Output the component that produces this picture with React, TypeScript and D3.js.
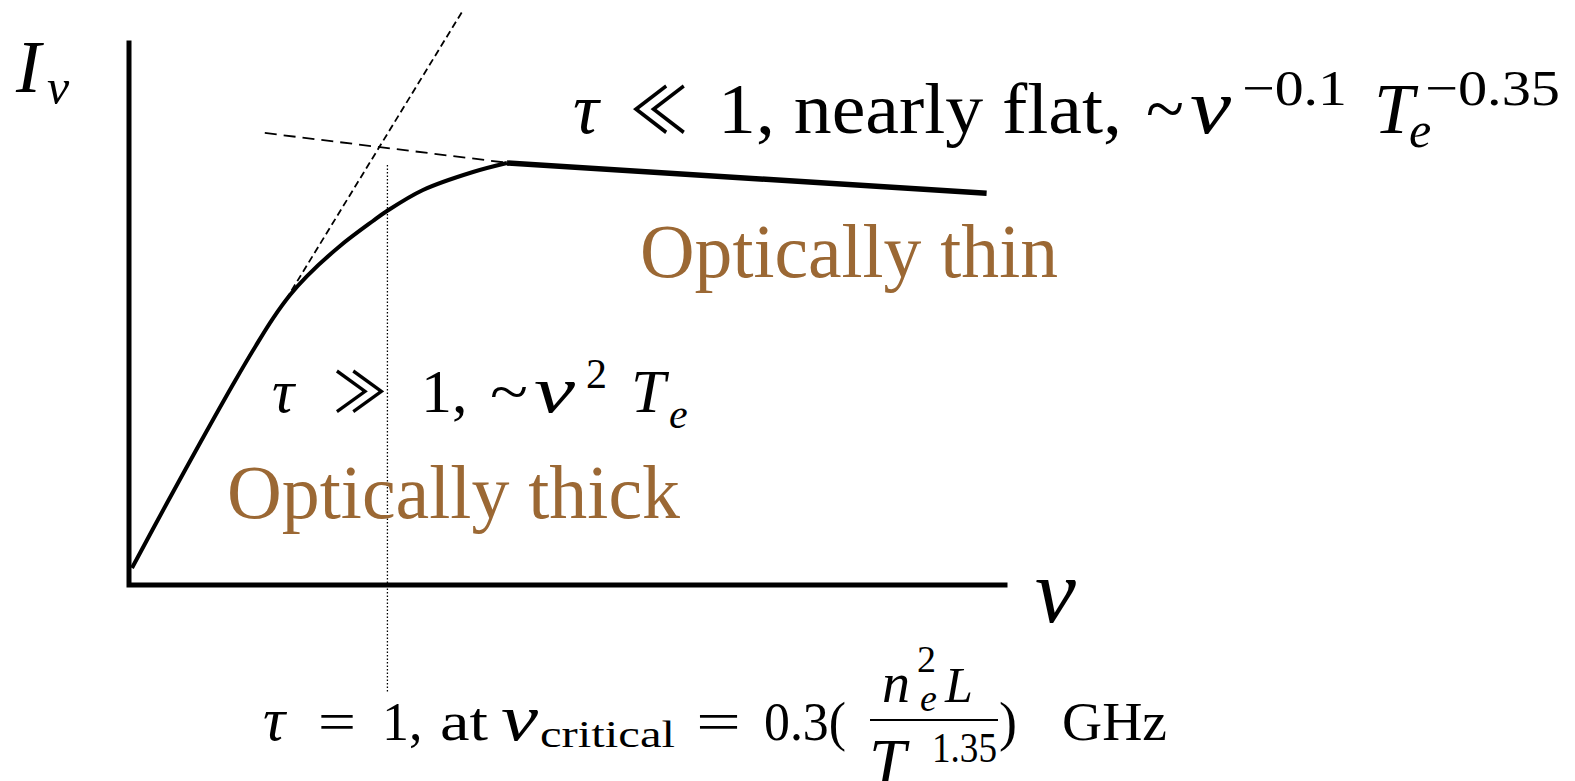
import React from 'react';
import * as d3 from 'd3';

// schematic spectrum, nu and I in arbitrary units (0..100)
const curveNu = [0.34, 4.34, 8.11, 12.1, 14.5, 16.44, 18.38, 20.32, 24.09, 27.85, 29.45, 33.56, 39.27, 43.15];
const curveI = [3.14, 15.13, 26.2, 37.64, 44.2, 49.2, 53.5, 57.0, 62.55, 67.16, 69.0, 72.88, 76.2, 77.86];
const thinNu = [43.15, 97.9];
const thinI = [77.86, 72.3];
const thickAsymNu = [17.9, 38.0];
const thickAsymI = [52.6, 105.7];
const thinAsymNu = [15.5, 43.2];
const thinAsymI = [83.4, 77.9];
const nuCritical = 29.5;
const critRange = [77.5, -19.7];

const W = 1575;
const H = 781;
const brown = '#9b6834';
const serif = '"Liberation Serif", "DejaVu Serif", serif';
const symbols = '"Noto Sans CJK JP", "DejaVu Sans", sans-serif';

const App = () => {
  const x = d3.scaleLinear().domain([0, 100]).range([129, 1005]);
  const y = d3.scaleLinear().domain([0, 100]).range([585, 43]);

  const line = d3
    .line<[number, number]>()
    .x(d => x(d[0]))
    .y(d => y(d[1]));

  const smooth = d3
    .line<[number, number]>()
    .x(d => x(d[0]))
    .y(d => y(d[1]))
    .curve(d3.curveCatmullRom.alpha(0.5));

  const zip = (a: number[], b: number[]) => a.map((v, i) => [v, b[i]] as [number, number]);

  return (
    <svg width={W} height={H} style={{ position: 'absolute', left: 0, top: 0, background: '#fff' }}>
      {/* axes */}
      <path
        d={line([[0, 100], [0, 0], [100, 0]]) || ''}
        fill="none"
        stroke="#000"
        strokeWidth={5}
        strokeLinecap="square"
      />
      {/* tau = 1 marker */}
      <path
        d={line([[nuCritical, critRange[0]], [nuCritical, critRange[1]]]) || ''}
        stroke="#000"
        strokeWidth={1.3}
        strokeDasharray="1.5,2"
      />
      {/* asymptotes */}
      <path
        d={line(zip(thickAsymNu, thickAsymI)) || ''}
        fill="none"
        stroke="#000"
        strokeWidth={1.8}
        strokeDasharray="7,4"
      />
      <path
        d={line(zip(thinAsymNu, thinAsymI)) || ''}
        fill="none"
        stroke="#000"
        strokeWidth={1.8}
        strokeDasharray="12,7"
      />
      {/* spectrum */}
      <path d={smooth(zip(curveNu, curveI)) || ''} fill="none" stroke="#000" strokeWidth={4} />
      <path d={line(zip(thinNu, thinI)) || ''} fill="none" stroke="#000" strokeWidth={5.5} />

      {/* I_nu and nu */}
      <g fontFamily={serif} fontStyle="italic" fill="#000">
        <text x={16} y={92} fontSize={75}>I</text>
        <text x={47} y={104} fontSize={50}>ν</text>
        <text x={1035} y={622} fontSize={92}>ν</text>
      </g>

      {/* optically thin regime */}
      <g fontFamily={serif} fill="#000">
        <text x={573} y={133} fontSize={72} fontStyle="italic">τ</text>
        <text x={630} y={133} fontSize={64} fontFamily={symbols} textLength={58} lengthAdjust="spacingAndGlyphs">≪</text>
        <text x={718} y={133} fontSize={72} textLength={404} lengthAdjust="spacingAndGlyphs">1, nearly flat,</text>
        <text x={1146} y={133} fontSize={72} textLength={38} lengthAdjust="spacingAndGlyphs">~</text>
        <text x={1190} y={133} fontSize={78} fontStyle="italic" textLength={41} lengthAdjust="spacingAndGlyphs">ν</text>
        <text x={1242} y={105} fontSize={50} textLength={105} lengthAdjust="spacingAndGlyphs">−0.1</text>
        <text x={1374} y={133} fontSize={72} fontStyle="italic">T</text>
        <text x={1409} y={147} fontSize={50} fontStyle="italic">e</text>
        <text x={1425} y={105} fontSize={50} textLength={135} lengthAdjust="spacingAndGlyphs">−0.35</text>
      </g>

      {/* optically thick regime */}
      <g fontFamily={serif} fill="#000">
        <text x={272} y={412} fontSize={62} fontStyle="italic">τ</text>
        <text x={333} y={412} fontSize={56} fontFamily={symbols} textLength={54} lengthAdjust="spacingAndGlyphs">≫</text>
        <text x={421} y={412} fontSize={62}>1,</text>
        <text x={490} y={412} fontSize={62} textLength={38} lengthAdjust="spacingAndGlyphs">~</text>
        <text x={534} y={412} fontSize={66} fontStyle="italic" textLength={41} lengthAdjust="spacingAndGlyphs">ν</text>
        <text x={586} y={388} fontSize={42}>2</text>
        <text x={631} y={412} fontSize={62} fontStyle="italic">T</text>
        <text x={669} y={428} fontSize={42} fontStyle="italic">e</text>
      </g>

      <g fontFamily={serif} fill={brown} fontSize={76}>
        <text x={640} y={277} textLength={418} lengthAdjust="spacingAndGlyphs">Optically thin</text>
        <text x={227} y={518} textLength={453} lengthAdjust="spacingAndGlyphs">Optically thick</text>
      </g>

      {/* critical frequency */}
      <g fontFamily={serif} fill="#000" fontSize={54}>
        <text x={263} y={740} fontSize={62} fontStyle="italic">τ</text>
        <text x={318} y={740} textLength={38} lengthAdjust="spacingAndGlyphs">=</text>
        <text x={382} y={740}>1,</text>
        <text x={440} y={740} textLength={48} lengthAdjust="spacingAndGlyphs">at</text>
        <text x={501} y={740} fontSize={66} fontStyle="italic" textLength={37} lengthAdjust="spacingAndGlyphs">ν</text>
        <text x={540} y={747} fontSize={37} textLength={135} lengthAdjust="spacingAndGlyphs">critical</text>
        <text x={696} y={740} textLength={45} lengthAdjust="spacingAndGlyphs">=</text>
        <text x={764} y={740} textLength={82} lengthAdjust="spacingAndGlyphs">0.3(</text>
        <text x={882} y={702} fontSize={56} fontStyle="italic">n</text>
        <text x={917} y={672} fontSize={38}>2</text>
        <text x={920} y={711} fontSize={38} fontStyle="italic">e</text>
        <text x={945} y={702} fontSize={50} fontStyle="italic">L</text>
        <line x1={870} x2={998} y1={720} y2={720} stroke="#000" strokeWidth={2.2} />
        <text x={869} y={784} fontSize={66} fontStyle="italic">T</text>
        <text x={932} y={762} fontSize={42} textLength={65} lengthAdjust="spacingAndGlyphs">1.35</text>
        <text x={999} y={740}>)</text>
        <text x={1062} y={740} textLength={105} lengthAdjust="spacingAndGlyphs">GHz</text>
      </g>
    </svg>
  );
};

export default App;
